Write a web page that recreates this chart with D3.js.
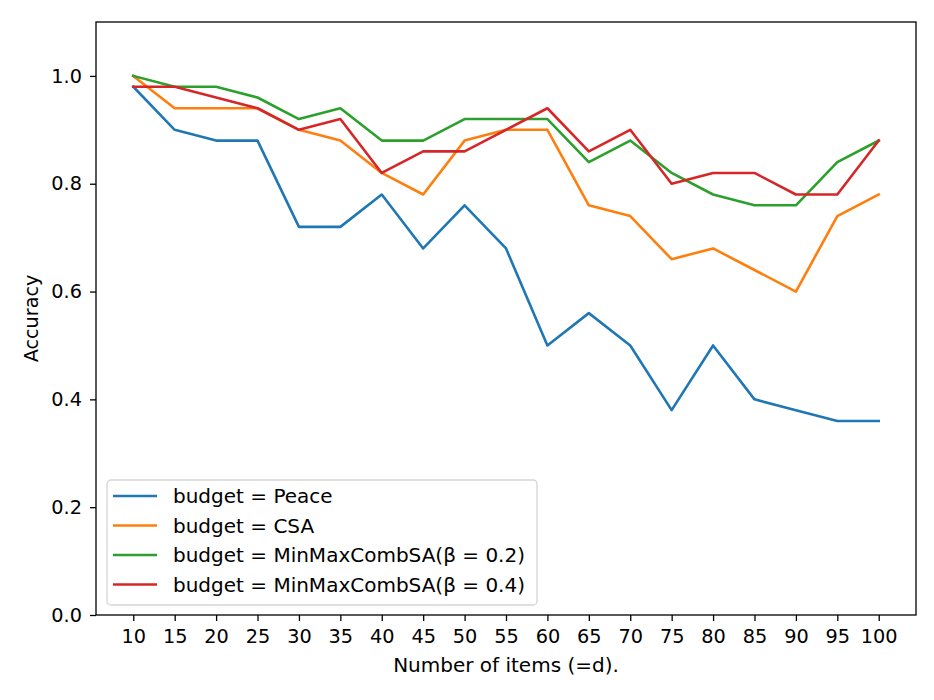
<!DOCTYPE html>
<html><head><meta charset="utf-8">
<script src="https://cdn.jsdelivr.net/npm/d3@7"></script>
<style>body{margin:0;background:#fff}svg{display:block}text{font-family:"DejaVu Sans",sans-serif;fill:#000}</style>
</head><body><svg id="c" width="934" height="700"></svg>
<script>
const items = [10,15,20,25,30,35,40,45,50,55,60,65,70,75,80,85,90,95,100];
const peace = [0.98,0.90,0.88,0.88,0.72,0.72,0.78,0.68,0.76,0.68,0.50,0.56,0.50,0.38,0.50,0.40,0.38,0.36,0.36];
const csa = [1.0,0.94,0.94,0.94,0.90,0.88,0.82,0.78,0.88,0.90,0.90,0.76,0.74,0.66,0.68,0.64,0.60,0.74,0.78];
const mmBeta02 = [1.0,0.98,0.98,0.96,0.92,0.94,0.88,0.88,0.92,0.92,0.92,0.84,0.88,0.82,0.78,0.76,0.76,0.84,0.88];
const mmBeta04 = [0.98,0.98,0.96,0.94,0.90,0.92,0.82,0.86,0.86,0.90,0.94,0.86,0.90,0.80,0.82,0.82,0.78,0.78,0.88];
const seriesNames = ["budget = Peace","budget = CSA","budget = MinMaxCombSA(β = 0.2)","budget = MinMaxCombSA(β = 0.4)"];
const yTicks = [0.0,0.2,0.4,0.6,0.8,1.0];
const colors = ["#1f77b4","#ff7f0e","#2ca02c","#d62728"];
const seriesData = [peace, csa, mmBeta02, mmBeta04];

const svg = d3.select("#c");
const L=96,R=916,T=22,B=615;
const x = d3.scaleLinear().domain([5.5,104.5]).range([L,R]);
const y = d3.scaleLinear().domain([0,1.1]).range([B,T]);

const xAxis = svg.append("g").attr("transform",`translate(0,${B})`)
  .call(d3.axisBottom(x).tickValues(items).tickFormat(d3.format("d")).tickSizeOuter(0).tickSize(6).tickPadding(8));
const yAxis = svg.append("g").attr("transform",`translate(${L},0)`)
  .call(d3.axisLeft(y).tickValues(yTicks).tickFormat(d3.format(".1f")).tickSizeOuter(0).tickSize(6).tickPadding(8));
[xAxis,yAxis].forEach(g=>{g.select(".domain").remove();g.selectAll("line").attr("stroke","#000").attr("stroke-width",1.3);
  g.selectAll("text").style("font-family","DejaVu Sans").style("font-size","19.3px");});

const line = d3.line().x((d,i)=>x(items[i])).y(d=>y(d));
seriesData.forEach((s,k)=>{
  svg.append("path").datum(s).attr("d",line).attr("fill","none").attr("stroke",colors[k]).attr("stroke-width",2.6).attr("stroke-linejoin","round").attr("stroke-linecap","square");
});

svg.append("rect").attr("x",L).attr("y",T).attr("width",R-L).attr("height",B-T).attr("fill","none").attr("stroke","#000").attr("stroke-width",1.3);

// legend
const lg = svg.append("g");
lg.append("rect").attr("x",107).attr("y",480).attr("width",430).attr("height",125).attr("rx",4)
  .attr("fill","#fff").attr("fill-opacity",0.8).attr("stroke","#d5d5d5").attr("stroke-width",1.3);
seriesNames.forEach((n,k)=>{
  const yy = 496 + k*29.5;
  lg.append("line").attr("x1",113).attr("x2",157).attr("y1",yy).attr("y2",yy).attr("stroke",colors[k]).attr("stroke-width",2.6);
  lg.append("text").attr("x",173).attr("y",yy).attr("dy","0.35em").style("font-size","20px").text(n);
});

svg.append("text").attr("x",(L+R)/2).attr("y",672).attr("text-anchor","middle").style("font-size","20px").text("Number of items (=d).");
svg.append("text").attr("transform",`translate(38,${(T+B)/2}) rotate(-90)`).attr("text-anchor","middle").style("font-size","19.2px").text("Accuracy");
</script></body></html>
